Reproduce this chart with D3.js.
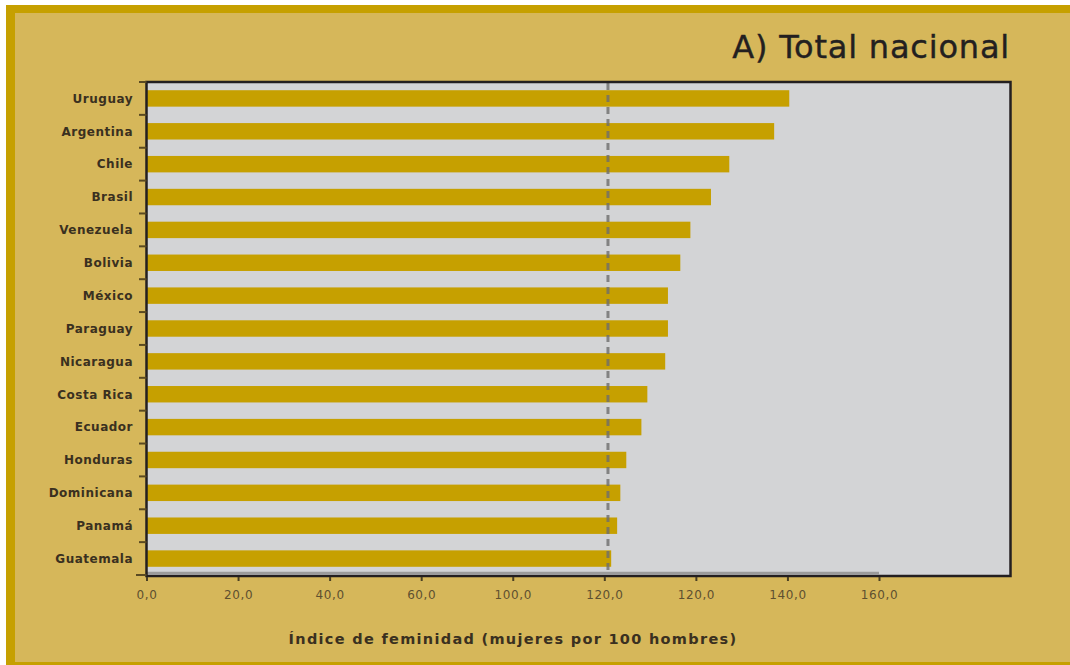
<!DOCTYPE html>
<html>
<head>
<meta charset="utf-8">
<script src="https://cdn.jsdelivr.net/npm/d3@7/dist/d3.min.js"></script>
<style>
  html, body { margin: 0; padding: 0; background: #ffffff; }
  svg { display: block; }
</style>
</head>
<body>
<svg id="chart" width="1070" height="665"></svg>
<script>
const countries = ["Uruguay","Argentina","Chile","Brasil","Venezuela","Bolivia","México","Paraguay","Nicaragua","Costa Rica","Ecuador","Honduras","Dominicana","Panamá","Guatemala"];
const values = [140.4, 137.1, 127.3, 123.3, 118.8, 116.6, 113.9, 113.9, 113.3, 109.4, 108.1, 104.8, 103.5, 102.8, 101.5];
const tickValues = [0, 20, 40, 60, 80, 100, 120, 140, 160];
const tickLabels = ["0,0","20,0","40,0","60,0","100,0","120,0","120,0","140,0","160,0"];
const referenceValue = [100.8];
const title = "A) Total nacional";
const axisTitle = "Índice de feminidad (mujeres por 100 hombres)";

const svg = d3.select("#chart");

// frame
svg.append("rect").attr("x", 6).attr("y", 5).attr("width", 1070).attr("height", 660).attr("fill", "#c6a000");
svg.append("rect").attr("x", 15).attr("y", 13).attr("width", 1060).attr("height", 649).attr("fill", "#d6b75a");

const plot = {left: 146.5, top: 82, right: 1010.5, bottom: 576};

const x = d3.scaleLinear().domain([0, 160]).range([146.5, 879]);
const y = d3.scaleBand().domain(countries).range([plot.top, plot.bottom - 1]).paddingInner(0.5).paddingOuter(0.25);

// plot background
svg.append("rect").attr("x", plot.left).attr("y", plot.top)
  .attr("width", plot.right - plot.left).attr("height", plot.bottom - plot.top)
  .attr("fill", "#d3d4d6");

// bottom grey line
svg.append("line").attr("x1", x(0)).attr("x2", x(160))
  .attr("y1", plot.bottom - 3).attr("y2", plot.bottom - 3)
  .attr("stroke", "#9b9b9b").attr("stroke-width", 2.5);

// bars
svg.append("g").selectAll("rect").data(countries).join("rect")
  .attr("x", x(0))
  .attr("y", d => y(d))
  .attr("width", (d, i) => x(values[i]) - x(0))
  .attr("height", y.bandwidth())
  .attr("fill", "#c6a000");

// reference dashed line
svg.append("g").selectAll("line").data(referenceValue).join("line")
  .attr("x1", d => x(d)).attr("x2", d => x(d))
  .attr("y1", plot.top + 1).attr("y2", plot.bottom - 2)
  .attr("stroke", "#6e6e6e").attr("stroke-width", 3)
  .attr("stroke-dasharray", "7,5").attr("opacity", 0.8);

// plot border
svg.append("rect").attr("x", plot.left).attr("y", plot.top)
  .attr("width", plot.right - plot.left).attr("height", plot.bottom - plot.top)
  .attr("fill", "none").attr("stroke", "#231f20").attr("stroke-width", 2.5);

// y category ticks (between bands)
const step = y.step();
const yTickPos = d3.range(countries.length + 1).map(i => plot.top + y.paddingOuter() * step - y.paddingInner() * step / 2 + i * step);
svg.append("g").selectAll("line").data(yTickPos).join("line")
  .attr("x1", (d, i) => i === countries.length ? 136 : 139).attr("x2", plot.left)
  .attr("y1", d => d).attr("y2", d => d)
  .attr("stroke", "#5a4a22").attr("stroke-width", 2);

// y labels
svg.append("g").selectAll("text").data(countries).join("text")
  .attr("x", 133)
  .attr("y", d => y(d) + y.bandwidth() / 2)
  .attr("dy", "0.36em")
  .attr("text-anchor", "end")
  .attr("font-family", "DejaVu Sans, Verdana, sans-serif")
  .attr("font-weight", "bold")
  .attr("font-size", 12)
  .attr("letter-spacing", 0.5)
  .attr("fill", "#3a3020")
  .text(d => d);

// x axis
const xAxis = d3.axisBottom(x).tickValues(tickValues).tickSize(4).tickPadding(9)
  .tickFormat((d, i) => tickLabels[i]);
const gx = svg.append("g").attr("transform", `translate(0,${plot.bottom + 1})`).call(xAxis);
gx.select(".domain").remove();
gx.selectAll(".tick line").attr("stroke", "#4a3f22").attr("stroke-width", 2);
gx.selectAll(".tick text")
  .attr("font-family", "DejaVu Sans, Verdana, sans-serif")
  .attr("font-size", 12)
  .attr("letter-spacing", 0.6)
  .attr("fill", "#5e5030");

// titles
svg.append("text").attr("x", 1010).attr("y", 58).attr("text-anchor", "end")
  .attr("font-family", "DejaVu Sans, sans-serif")
  .attr("font-size", 32).attr("letter-spacing", 0.8)
  .attr("fill", "#231f20").attr("stroke", "#231f20").attr("stroke-width", 0.4)
  .text(title);

svg.append("text").attr("x", 513).attr("y", 644).attr("text-anchor", "middle")
  .attr("font-family", "DejaVu Sans, Verdana, sans-serif")
  .attr("font-weight", "bold")
  .attr("font-size", 14.5).attr("letter-spacing", 1.3)
  .attr("fill", "#3a3020")
  .text(axisTitle);
</script>
</body>
</html>
